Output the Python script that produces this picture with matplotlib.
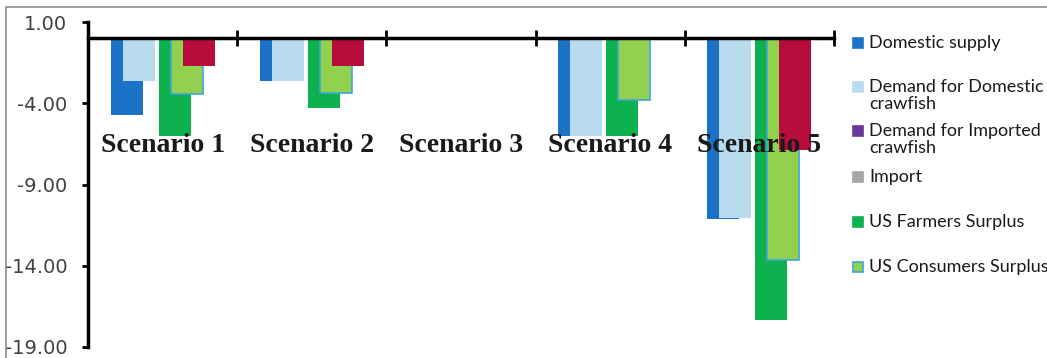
import matplotlib
matplotlib.use("Agg")
import matplotlib.pyplot as plt
from matplotlib.patches import Rectangle
import numpy as np

categories = ["Scenario 1", "Scenario 2", "Scenario 3", "Scenario 4", "Scenario 5"]
series_names = ["Domestic supply", "Demand for Domestic\ncrawfish", "Demand for Imported\ncrawfish",
                "Import", "US Farmers Surplus", "US Consumers Surplus", "_Welfare"]
domestic_supply = [-4.7, -2.65, 0.0, -6.0, -11.1]
demand_domestic = [-2.6, -2.65, 0.0, -6.0, -11.05]
demand_imported = [0.0, 0.0, 0.0, 0.0, 0.0]
imports = [0.0, 0.0, 0.0, 0.0, 0.0]
farmers_surplus = [-6.0, -4.3, 0.0, -6.0, -17.35]
consumers_surplus = [-3.4, -3.35, 0.0, -3.8, -13.65]
welfare = [-1.7, -1.7, 0.0, 0.0, -6.9]
yticks = [1, -4, -9, -14, -19]

series_values = [domestic_supply, demand_domestic, demand_imported, imports,
                 farmers_surplus, consumers_surplus, welfare]
colors = ["#1c72c6", "#b8dcee", "#6a3a9a", "#a6a6a6", "#0db14d", "#92d050", "#b80c3c"]
edges = [None, None, None, None, None, "#3fa6d8", None]

W, H = 1047, 358
fig = plt.figure(figsize=(W/100, H/100), dpi=100)
ax = fig.add_axes([88/W, 1-347/H, (834-88)/W, (347-22)/H])
x = np.arange(len(categories))
w = 32/149
step = 12/149
for i, (name, vals) in enumerate(zip(series_names, series_values)):
    kw = {}
    if edges[i]:
        kw = dict(edgecolor=edges[i], linewidth=1.2)
    ax.bar(x + (i-3)*step, vals, w, color=colors[i], label=name, zorder=1, **kw)

ax.set_xlim(-0.5, 4.5)
ax.set_ylim(-19, 1)
ax.set_axisbelow(False)
for s in ["top", "right"]:
    ax.spines[s].set_visible(False)
ax.spines["left"].set_linewidth(2.5)
ax.spines["bottom"].set_linewidth(2.5)
ax.spines["bottom"].set_position(("data", 0))

ax.set_yticks(yticks)
ax.set_yticklabels([f"{v:.2f}" for v in yticks])
ax.tick_params(axis="y", direction="out", length=4, width=2, colors="black",
               labelcolor="#404040", labelsize=14, pad=11)

ax.set_xticks(np.arange(-0.5, 5.0, 1.0))
ax.set_xticklabels([])
ax.tick_params(axis="x", which="major", direction="inout", length=12, width=2)
ax.set_xticks(x, minor=True)
ax.set_xticklabels(categories, minor=True, fontfamily="Liberation Serif",
                   fontweight="bold", fontsize=20, color="#1a1a1a")
ax.tick_params(axis="x", which="minor", length=0, pad=68)

fig.add_artist(Rectangle((6/W, -0.1), 1.2, (H-7)/H + 0.1,
                         transform=fig.transFigure, fill=False,
                         edgecolor="#8c8c8c", linewidth=1.2))

# legend (entries placed like the original Excel legend; red series has no entry)
legend_rows = [43, 87, 131, 177, 222, 267]
for i, (lab, yrow) in enumerate(zip(series_names[:6], legend_rows)):
    fig.add_artist(Rectangle((853/W, 1-(yrow+5)/H), 10/W, 10/H,
                             transform=fig.transFigure, facecolor=colors[i],
                             edgecolor=edges[i] if edges[i] else colors[i],
                             linewidth=1.2))
    fig.text(869/W, 1-(yrow-8)/H, lab, ha="left", va="top",
             family=["Lato", "DejaVu Sans"], fontsize=13, color="#1a1a1a",
             linespacing=1.05)

fig.savefig("out.png", dpi=100)
